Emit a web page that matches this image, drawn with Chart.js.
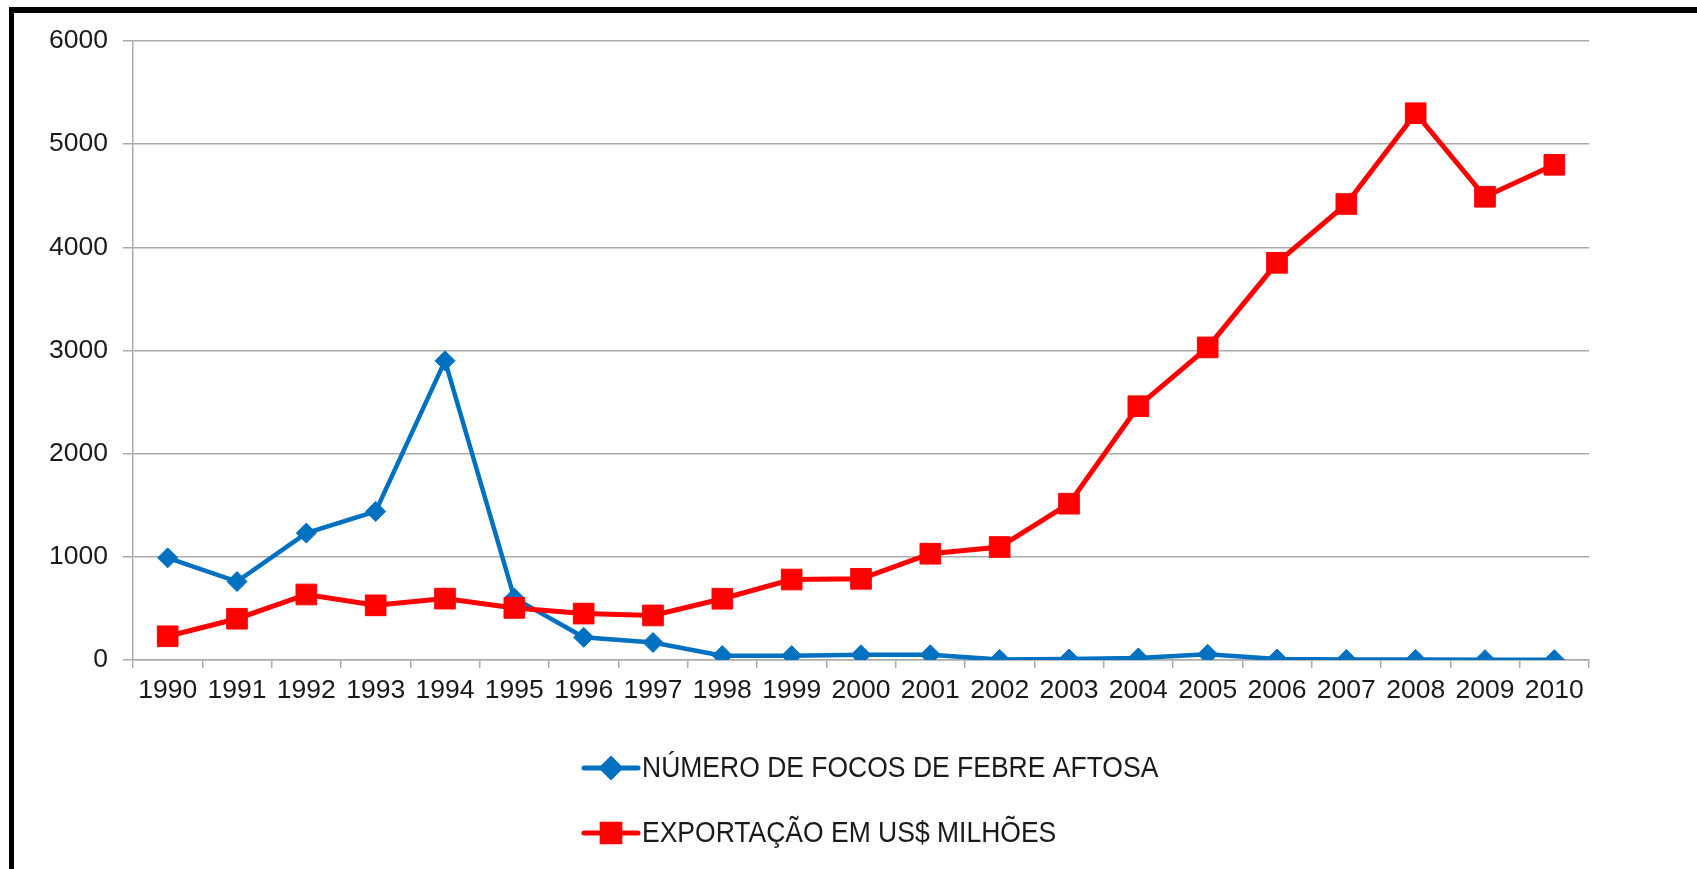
<!DOCTYPE html>
<html>
<head>
<meta charset="utf-8">
<script src="https://cdn.jsdelivr.net/npm/chart.js@4.4.1/dist/chart.umd.min.js"></script>
<style>
html,body{margin:0;padding:0;background:#fff;}
#wrap{position:relative;width:1697px;height:869px;overflow:hidden;background:#fff;}
#c{position:absolute;left:0;top:0;}
#frame{position:absolute;left:9px;top:7px;right:-20px;bottom:-20px;border-top:6px solid #000;border-left:5px solid #000;pointer-events:none;}
</style>
</head>
<body>
<div id="wrap">
  <canvas id="c" width="1697" height="869"></canvas>
  <div id="frame"></div>
</div>
<script>
// ---- data ----
const years = ['1990','1991','1992','1993','1994','1995','1996','1997','1998','1999','2000','2001','2002','2003','2004','2005','2006','2007','2008','2009','2010'];
const focosFebreAftosa = [990, 760, 1230, 1440, 2900, 600, 220, 170, 42, 42, 50, 50, 5, 10, 20, 55, 10, 5, 5, 3, 3];
const exportacaoMilhoes = [230, 400, 635, 530, 595, 505, 450, 432, 594, 780, 787, 1030, 1095, 1515, 2460, 3030, 3850, 4420, 5300, 4490, 4800];
const yTickValues = [0, 1000, 2000, 3000, 4000, 5000, 6000];
const seriesLabels = ['NÚMERO DE FOCOS DE FEBRE AFTOSA', 'EXPORTAÇÃO EM US$ MILHÕES'];

const FONT = '"Liberation Sans", Arial, sans-serif';
const BLUE = '#0070C0';
const RED = '#FF0000';
const GRID = '#ababab';
const TEXT = '#1a1a1a';

const stackedLegend = {
  id: 'stackedLegend',
  afterDraw(chart) {
    const ctx = chart.ctx;
    const base = chart.chartArea.bottom + 108;
    chart.data.datasets.forEach((ds, i) => {
      const y = base + i * 65;
      const x0 = 584, x1 = 638;
      ctx.save();
      ctx.strokeStyle = ds.borderColor;
      ctx.lineWidth = 5;
      ctx.lineCap = 'round';
      ctx.beginPath();
      ctx.moveTo(x0, y);
      ctx.lineTo(x1, y);
      ctx.stroke();
      ctx.fillStyle = ds.pointBackgroundColor;
      ctx.strokeStyle = ds.pointBorderColor;
      Chart.helpers.drawPoint(ctx, {
        pointStyle: ds.pointStyle,
        radius: ds.legendRadius,
        borderWidth: 1,
        rotation: 0
      }, (x0 + x1) / 2, y);
      ctx.fillStyle = TEXT;
      ctx.font = '26.5px ' + FONT;
      ctx.textBaseline = 'middle';
      ctx.textAlign = 'left';
      ctx.translate(642, y + 1);
      ctx.scale(1, 1.1);
      ctx.fillText(ds.label, 0, 0);
      ctx.restore();
    });
  }
};

new Chart(document.getElementById('c'), {
  type: 'line',
  data: {
    labels: years,
    datasets: [
      {
        label: seriesLabels[0],
        data: focosFebreAftosa,
        borderColor: BLUE,
        backgroundColor: BLUE,
        pointBackgroundColor: BLUE,
        pointBorderColor: BLUE,
        pointStyle: 'rectRot',
        pointRadius: 10,
        pointBorderWidth: 1,
        borderWidth: 4.5,
        tension: 0,
        order: 1,
        legendRadius: 9
      },
      {
        label: seriesLabels[1],
        data: exportacaoMilhoes,
        borderColor: RED,
        backgroundColor: RED,
        pointBackgroundColor: RED,
        pointBorderColor: RED,
        pointStyle: 'rect',
        pointRadius: 14.6,
        pointBorderWidth: 1,
        borderWidth: 5,
        tension: 0,
        order: 0,
        legendRadius: 12.5
      }
    ]
  },
  options: {
    responsive: false,
    animation: false,
    devicePixelRatio: 1,
    layout: { padding: { top: 41, right: 108, bottom: 159, left: 0 } },
    plugins: {
      legend: { display: false },
      tooltip: { enabled: false }
    },
    scales: {
      x: {
        offset: true,
        grid: { offset: true, drawOnChartArea: false, drawTicks: true, tickLength: 8, color: GRID, lineWidth: 1.5 },
        border: { color: GRID, width: 1.5 },
        ticks: { color: TEXT, font: { family: FONT, size: 26.5 }, padding: 7, maxRotation: 0, autoSkip: false },
        afterFit(s) { s.height = 50; }
      },
      y: {
        min: 0,
        max: 6000,
        grid: { color: GRID, lineWidth: 1.5, tickLength: 10, drawTicks: true },
        border: { color: GRID, width: 1.5 },
        ticks: { color: TEXT, font: { family: FONT, size: 26.5 }, padding: 15, callback: v => String(v) },
        afterBuildTicks(s) { s.ticks = yTickValues.map(v => ({ value: v })); },
        afterFit(s) { s.width = 133; }
      }
    }
  },
  plugins: [stackedLegend]
});
</script>
</body>
</html>
